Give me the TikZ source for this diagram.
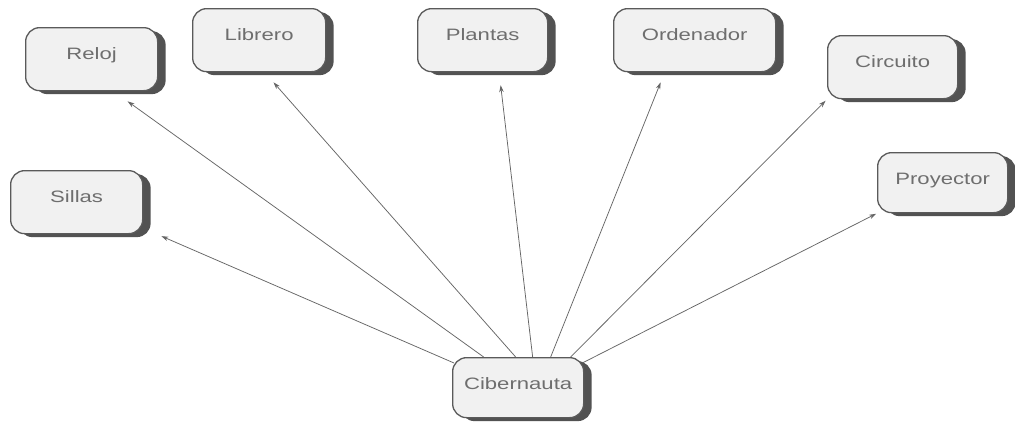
\documentclass[tikz,border=0pt]{standalone}
\usepackage{fontspec}
\setmainfont[FakeStretch=1.34]{Liberation Sans}
\usetikzlibrary{shadows,arrows.meta}
\definecolor{boxfill}{HTML}{F1F1F1}
\definecolor{boxline}{HTML}{5A5A5A}
\definecolor{txtgray}{HTML}{6E6E6E}
\definecolor{arrgray}{HTML}{666666}
\begin{document}
\begin{tikzpicture}[x=1bp,y=-1bp,
  box/.style={draw=boxline, line width=1.3bp, fill=boxfill, rounded corners=14bp,
    inner xsep=0pt, inner ysep=0pt, text height=31.5bp, text depth=31.5bp,
    anchor=north west, text=txtgray, font=\fontsize{16.5bp}{20bp}\selectfont,
    drop shadow={shadow xshift=8bp, shadow yshift=-3.5bp, fill=black!75, opacity=0.9}},
  link/.style={draw=arrgray, line width=0.75bp, -{Stealth[length=7bp,width=4.5bp]}}]
\useasboundingbox (0,0) rectangle (1015,421);
\fill[white] (0,0) rectangle (1015,421);

\node[box, minimum width=132bp] (reloj) at (25,27) {Reloj};
\node[box, minimum width=133bp] (librero) at (192,8) {Librero};
\node[box, minimum width=130bp] (plantas) at (417,8) {Plantas};
\node[box, minimum width=162bp] (ordenador) at (613,8) {Ordenador};
\node[box, minimum width=130bp] (circuito) at (827,35) {Circuito};
\node[box, minimum width=132bp] (sillas) at (10,170) {Sillas};
\node[box, minimum width=130bp, text depth=28.5bp] (proyector) at (877,152) {Proyector};
\node[box, minimum width=131bp, text depth=28.5bp] (cib) at (452,357) {Cibernauta};

\draw[link, shorten >=17.2bp] ([xshift=-34.5bp]cib.north) -- ([xshift=22bp]reloj.south);
\draw[link, shorten >=13.4bp] ([xshift=-2.5bp]cib.north) -- ([xshift=5.5bp]librero.south);
\draw[link, shorten >=13bp] ([xshift=14.5bp]cib.north) -- ([xshift=16.5bp]plantas.south);
\draw[link, shorten >=10.8bp] ([xshift=32.5bp]cib.north) -- ([xshift=-30bp]ordenador.south);
\draw[link, shorten >=2bp] ([xshift=52.5bp]cib.north) -- (circuito.south west);
\draw[link, shorten >=1bp] ([xshift=-2bp,yshift=-6bp]cib.north east) -- (proyector.south west);
\draw[link, shorten >=19.7bp] ([xshift=2bp,yshift=-6bp]cib.north west) -- ([yshift=6bp]sillas.south east);
\end{tikzpicture}
\end{document}
